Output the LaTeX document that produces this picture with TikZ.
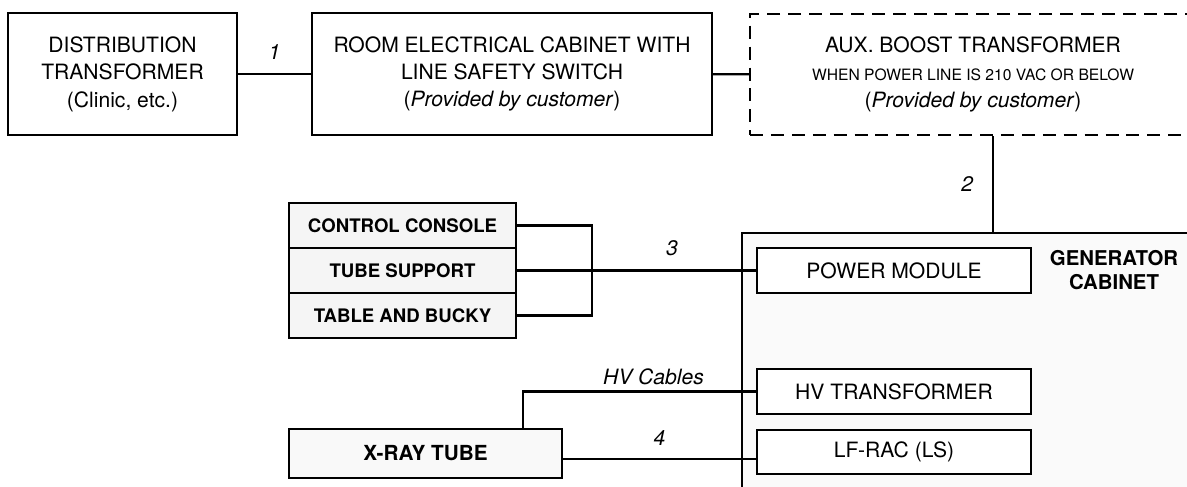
\documentclass[tikz,border=0pt]{standalone}
\usepackage{fontspec}
\setmainfont{TeX Gyre Heros}
\usetikzlibrary{positioning}

\begin{document}
\begin{tikzpicture}[line width=1.25pt,font=\fontsize{12}{15.6}\selectfont,
  box/.style={draw,align=center,inner sep=0pt},
  part/.style={box,fill=gray!8,minimum width=4.54cm,minimum height=0.9cm,outer sep=0pt,font=\fontsize{10.6}{12}\selectfont\bfseries},
  module/.style={box,fill=white,minimum width=5.48cm,minimum height=0.9cm},
  wirelabel/.style={font=\fontsize{12}{14}\selectfont\itshape}]
\useasboundingbox (0,0) rectangle (23.74,-9.72);
\clip (0,0) rectangle (23.74,-9.72);
% mains supply
\node[box,minimum width=4.58cm,minimum height=2.44cm] (dist) at (2.45,-1.48) {DISTRIBUTION\\TRANSFORMER\\(Clinic, etc.)};
\node[box,minimum width=8cm,minimum height=2.44cm] (room) at (10.24,-1.48) {ROOM ELECTRICAL CABINET WITH\\LINE SAFETY SWITCH\\(\textit{Provided by customer})};
\node[box,dash pattern=on 7.4pt off 4.5pt,minimum width=8.92cm,minimum height=2.42cm] (aux) at (19.46,-1.49) {AUX. BOOST TRANSFORMER\\{\fontsize{8.9}{11}\selectfont WHEN POWER LINE IS 210 VAC OR BELOW}\\(\textit{Provided by customer})};
% generator cabinet
\node[draw,fill=gray!4,minimum width=9.16cm,minimum height=5.34cm] (gen) at (19.42,-7.33) {};
\node[align=center,font=\fontsize{11.6}{13.5}\selectfont\bfseries] (genlbl) at (22.28,-5.4) {GENERATOR\\CABINET};
\node[module] (pwr) at (17.88,-5.41) {POWER MODULE};
\node[module] (hvt) at (17.88,-7.83) {HV TRANSFORMER};
\node[module,minimum height=0.88cm] (lfrac) at (17.88,-9.04) {LF-RAC (LS)};
% room equipment
\node[part] (console) at (8.05,-4.51) {CONTROL CONSOLE};
\node[part,below=0pt of console] (support) {TUBE SUPPORT};
\node[part,below=0pt of support] (table) {TABLE AND BUCKY};
\node[box,fill=gray!5,minimum width=5.46cm,minimum height=0.98cm,font=\fontsize{11.8}{14}\selectfont\bfseries] (tube) at (8.51,-9.07) {X-RAY TUBE};
\coordinate (bus) at (11.84,-5.42);
% wiring
\draw (dist) -- (room) node[wirelabel,midway,above=0.15cm] (w1) {1};
\draw (room) -- (aux);
\draw ([xshift=4mm]aux.south) -- ([xshift=4mm]aux.south |- gen.north) node[wirelabel,midway,left=0.26cm] (w2) {2};
\draw (console.east) -| (table.east -| bus) -- (table.east);
\draw (support.east) -- (support.east -| pwr.west) node[wirelabel,pos=0.65,above=0.15cm] (w3) {3};
\draw ([xshift=19.5mm]tube.north) |- (hvt.west) node[wirelabel,pos=0.78,above] (hvlbl) {HV Cables};
\draw ([yshift=-1.1mm]tube.east) -- ([yshift=-1.1mm]tube.east -| lfrac.west) node[wirelabel,midway,above=0.13cm] (w4) {4};
\end{tikzpicture}
\end{document}
